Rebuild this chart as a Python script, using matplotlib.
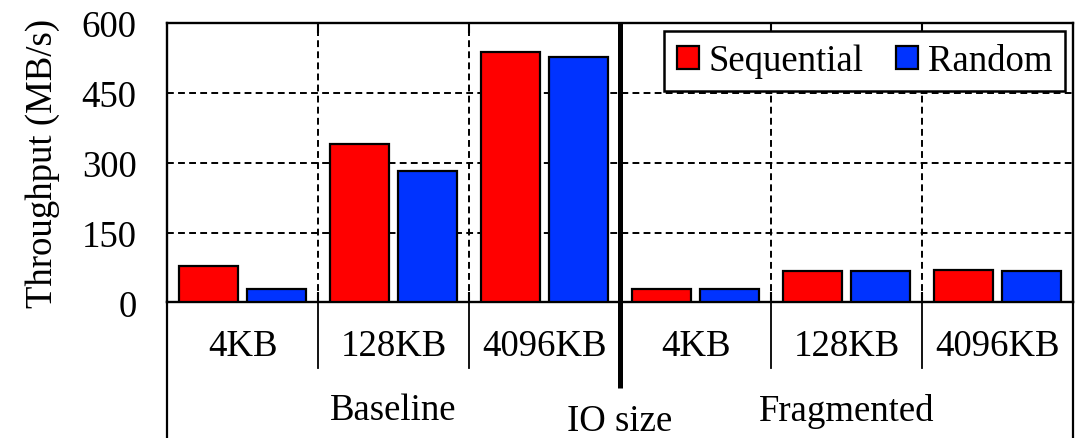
import numpy as np
import matplotlib
matplotlib.use('Agg')
import matplotlib.pyplot as plt

plt.rcParams['font.family'] = ['Liberation Serif', 'DejaVu Serif']

# data
sizes = ['4KB', '128KB', '4096KB', '4KB', '128KB', '4096KB']
groups = ['Baseline', 'Fragmented']
sequential = [78, 341, 538, 30, 68, 69]
random_io = [30, 282, 528, 29, 68, 68]
yticks = [0, 150, 300, 450, 600]

fs = 26.5
red = '#ff0000'
blue = '#0033ff'

fig = plt.figure(figsize=(10.89, 4.39), dpi=100)
ax = fig.add_axes([0.1534, 0.3087, 0.8319, 0.6366])

x = np.arange(len(sizes))
w = 0.39
off = 0.227

# grid first so bars cover it
dash = (0, (3.5, 2.2))
for yv in yticks[1:-1]:
    ax.axhline(yv, color='black', lw=1.4, ls=dash, zorder=1)
for xv in [0.5, 1.5, 3.5, 4.5]:
    ax.axvline(xv, color='black', lw=1.4, ls=dash, zorder=1)

ax.bar(x - off, sequential, w, color=red, edgecolor='black', lw=1.6,
       label='Sequential', zorder=3)
ax.bar(x + off, random_io, w, color=blue, edgecolor='black', lw=1.6,
       label='Random', zorder=3)

ax.set_xlim(-0.5, 5.5)
ax.set_ylim(0, 600)
ax.set_yticks(yticks)
ax.tick_params(axis='y', length=0, pad=22, labelsize=fs)
ax.set_xticks([0.5, 1.5, 2.5, 3.5, 4.5])
ax.set_xticklabels([])
ax.tick_params(axis='x', direction='in', length=7, width=1.5, top=True)
for s in ax.spines.values():
    s.set_linewidth(1.7)

# thick separator between the two groups
tr = ax.get_xaxis_transform()
ax.plot([2.5, 2.5], [1.0, -0.306], transform=tr, color='black', lw=3.6,
        clip_on=False, zorder=5, solid_capstyle='butt')
# table lines under the axis
for xv in [0.5, 1.5, 3.5, 4.5]:
    ax.plot([xv, xv], [0, -0.234], transform=tr, color='black', lw=1.3,
            clip_on=False)
for xv in [-0.5, 5.5]:
    ax.plot([xv, xv], [0, -0.5], transform=tr, color='black', lw=1.6,
            clip_on=False)

for i, s in enumerate(sizes):
    ax.text(i, -0.155, s, transform=tr, ha='center', va='center', fontsize=fs)
ax.text(1, -0.385, groups[0], transform=tr, ha='center', va='center', fontsize=fs)
ax.text(4, -0.385, groups[1], transform=tr, ha='center', va='center', fontsize=fs)
ax.text(2.5, -0.424, 'IO size', transform=tr, ha='center', va='center', fontsize=fs)

ax.text(-0.137, 0.5, 'Throughput (MB/s)', transform=ax.transAxes, rotation=90,
        ha='center', va='center', fontsize=fs)

leg = ax.legend(loc='upper right', ncol=2, fontsize=fs, frameon=True,
                fancybox=False, edgecolor='black', framealpha=1,
                handlelength=0.6, handleheight=0.6, handletextpad=0.25,
                columnspacing=0.9, borderpad=0.35, borderaxespad=0.22)
leg.get_frame().set_linewidth(1.8)
leg.set_zorder(10)

fig.savefig('out.png', dpi=100)
